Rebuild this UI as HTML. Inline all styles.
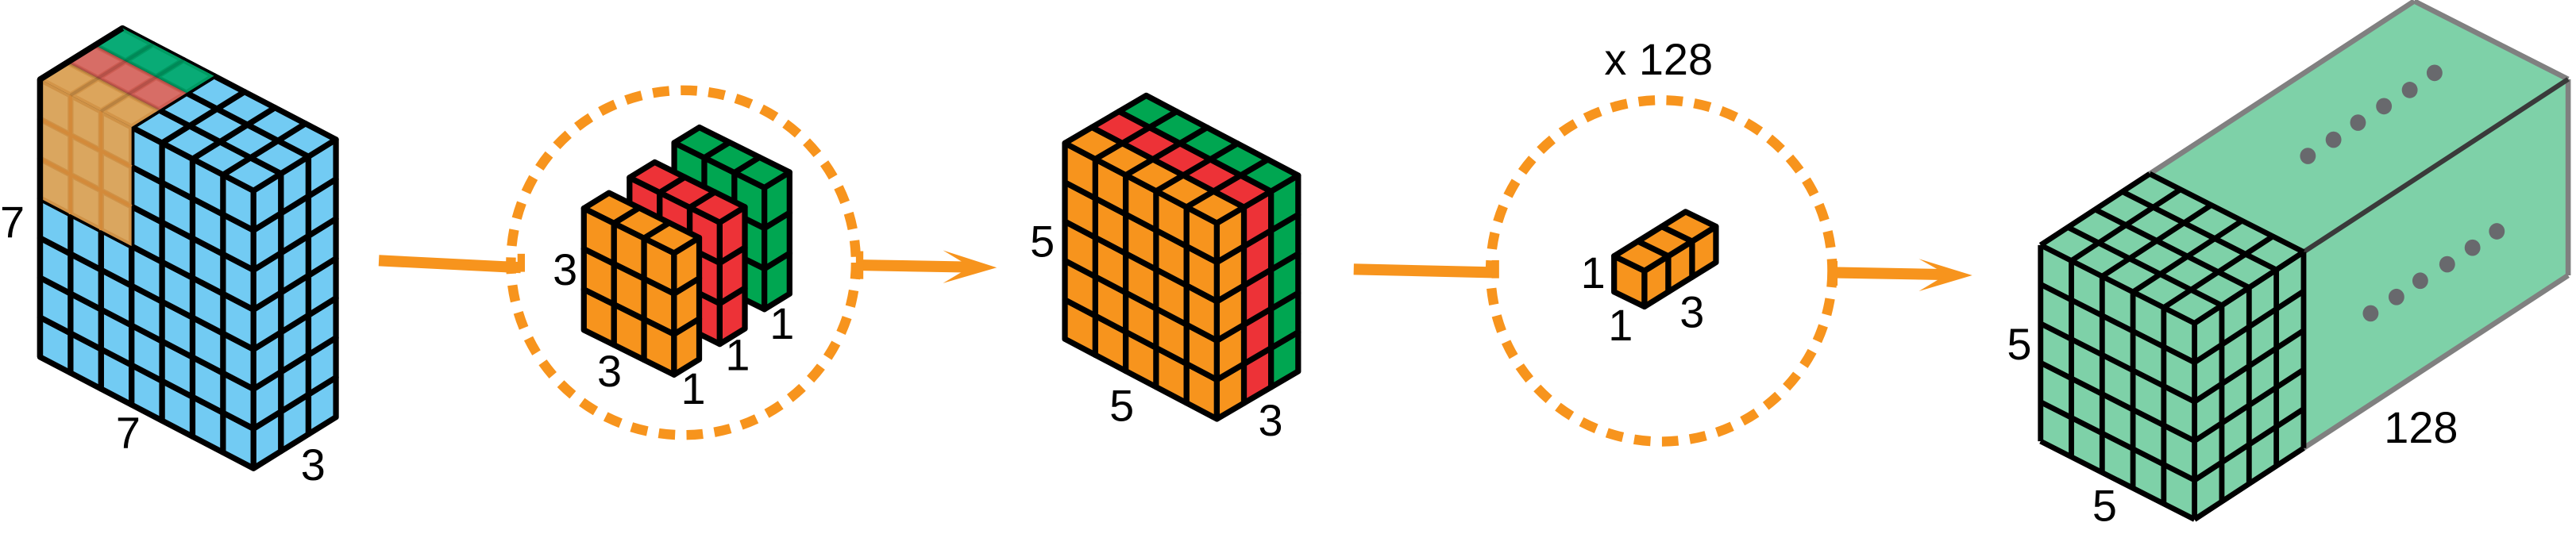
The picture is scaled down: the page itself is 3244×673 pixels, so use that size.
<!DOCTYPE html>
<html><head><meta charset="utf-8">
<style>
html,body{margin:0;padding:0;background:#fff;}
svg{display:block;}
text{font-family:"Liberation Sans",sans-serif;fill:#000;}
</style></head>
<body>
<svg id="s" xmlns="http://www.w3.org/2000/svg" width="3244" height="673" viewBox="0 0 1568 325.3" preserveAspectRatio="none">
<g id="g"></g>
</svg>
<script>
const NS='http://www.w3.org/2000/svg';
const g=document.getElementById('g');
function el(tag,attrs,parent){const e=document.createElementNS(NS,tag);for(const k in attrs)e.setAttribute(k,attrs[k]);(parent||g).appendChild(e);return e;}
function pt(P,a,b,h,i,k,j){return [P[0]+i*a[0]+k*b[0],P[1]+i*a[1]+k*b[1]-j*h];}
function poly(pts,fill,stroke,sw,par,op){return el('polygon',{points:pts.map(p=>p[0].toFixed(2)+','+p[1].toFixed(2)).join(' '),fill:fill,stroke:stroke||'none','stroke-width':sw||0,'stroke-linejoin':'round','fill-opacity':op==null?1:op},par);}
function line(p,q,stroke,sw,par){return el('line',{x1:p[0],y1:p[1],x2:q[0],y2:q[1],stroke:stroke,'stroke-width':sw,'stroke-linecap':'butt'},par);}
function box(name,P,a,b,h,na,nb,nh,fl,fr,ft,sw){
  const grp=el('g',{});
  
  
  for(let i=0;i<na;i++)for(let j=0;j<nh;j++)poly([pt(P,a,b,h,i,0,j),pt(P,a,b,h,i+1,0,j),pt(P,a,b,h,i+1,0,j+1),pt(P,a,b,h,i,0,j+1)],fl(i,j),'#000',sw,grp);
  for(let k=0;k<nb;k++)for(let j=0;j<nh;j++)poly([pt(P,a,b,h,0,k,j),pt(P,a,b,h,0,k+1,j),pt(P,a,b,h,0,k+1,j+1),pt(P,a,b,h,0,k,j+1)],fr(k,j),'#000',sw,grp);
  for(let i=0;i<na;i++)for(let k=0;k<nb;k++)poly([pt(P,a,b,h,i,k,nh),pt(P,a,b,h,i+1,k,nh),pt(P,a,b,h,i+1,k+1,nh),pt(P,a,b,h,i,k+1,nh)],ft(i,k),'#000',sw,grp);
  return grp;
}
const OR='#f7941d',RD='#ed3237',GR='#00a651',BL='#72cbf3';
const cols=[OR,RD,GR];
const SW=3.5;

{const P=[154.3,285.3],a=[-18.56,-9.69],b=[16.73,-10.4],h=24.16;
 const grp=box('input-volume-7x7x3',P,a,b,h,7,3,7,()=>BL,()=>BL,()=>BL,SW);
 const ov=el('g',{},grp);
 
 
 poly([pt(P,a,b,h,4,0,4),pt(P,a,b,h,7,0,4),pt(P,a,b,h,7,0,7),pt(P,a,b,h,4,0,7)],'#e5a24f','#d38a3a',0,ov,0.9);
 const oc=['#e5a24f','#e0655a','#00a86b'];
 for(let k=0;k<3;k++)poly([pt(P,a,b,h,4,k,7),pt(P,a,b,h,7,k,7),pt(P,a,b,h,7,k+1,7),pt(P,a,b,h,4,k+1,7)],oc[k],'none',0,ov,0.92);
 for(let i=5;i<7;i++)line(pt(P,a,b,h,i,0,4),pt(P,a,b,h,i,0,7),'#d38a3a',2,ov);
 for(let j=5;j<7;j++)line(pt(P,a,b,h,4,0,j),pt(P,a,b,h,7,0,j),'#d38a3a',2,ov);
 for(let i=5;i<7;i++)line(pt(P,a,b,h,i,0,7),pt(P,a,b,h,i,3,7),'rgba(0,0,0,0.12)',2,ov);
 for(let k=1;k<3;k++)line(pt(P,a,b,h,4,k,7),pt(P,a,b,h,7,k,7),'rgba(0,0,0,0.12)',2,ov);
 line(pt(P,a,b,h,7,0,0),pt(P,a,b,h,7,0,7),'#000',3.6,grp);
 line(pt(P,a,b,h,7,0,7),pt(P,a,b,h,7,3,7),'#000',3.6,grp);
}

function circ(name,cx,cy,r){const c=el('circle',{cx:cx,cy:cy,r:r,fill:'none',stroke:OR,'stroke-width':6,'stroke-dasharray':'10 7'});
 
 }
circ('depthwise-circle',416,160,105);
circ('pointwise-circle',1011.3,165,104);

{const a=[-18.3,-9.1],b=[15.3,-9.4],h=24.7;
 box('kernel-green',[465.3,188.4],a,b,h,3,1,3,()=>GR,()=>GR,()=>GR,SW);
 box('kernel-red',[438.1,209.6],a,b,h,3,1,3,()=>RD,()=>RD,()=>RD,SW);
 box('kernel-orange',[410.3,228.3],a,b,h,3,1,3,()=>OR,()=>OR,()=>OR,SW);
}

box('intermediate-volume-5x5x3',[740.7,255.2],[-18.5,-9.74],[16.5,-9.67],23.86,5,3,5,()=>OR,(k)=>cols[k],(i,k)=>cols[k],SW);

box('pointwise-kernel-1x1x3',[1001,186.8],[-18.5,-9],[14.5,-9],21.8,1,3,1,()=>OR,()=>OR,()=>OR,SW);

{const P=[1335.8,316.4],a=[-18.74,-9.52],b=[16.6,-10.85],h=23.9,L=13.7;
 const grp=el('g',{});
 
 
 const F='#7ed1a8';
 const LT=pt(P,a,b,h,5,0,5),FT=pt(P,a,b,h,0,0,5),FB=P;
 const LTb=[LT[0]+L*b[0],LT[1]+L*b[1]],FTb=[FT[0]+L*b[0],FT[1]+L*b[1]],FBb=[FB[0]+L*b[0],FB[1]+L*b[1]];
 poly([LT,FT,FTb,LTb],F,'none',0,grp);
 poly([FT,FB,FBb,FTb],F,'none',0,grp);
 poly([pt(P,a,b,h,0,0,0),pt(P,a,b,h,5,0,0),LT,FT],F,'none',0,grp);
 const gs='#808080';
 line(LT,LTb,gs,3.2,grp);line(LTb,FTb,gs,3.2,grp);line(FTb,FBb,gs,3.2,grp);line(FBb,FB,gs,3.2,grp);
 line(FT,FTb,'#3a3a3a',3,grp);
 const bw=3.3;
 for(let i=0;i<=5;i++)line(pt(P,a,b,h,i,0,0),pt(P,a,b,h,i,0,5),'#000',bw,grp);
 for(let j=0;j<=5;j++)line(pt(P,a,b,h,0,0,j),pt(P,a,b,h,5,0,j),'#000',bw,grp);
 for(let k=1;k<=4;k++)line(pt(P,a,b,h,0,k,0),pt(P,a,b,h,0,k,5),'#000',bw,grp);
 for(let j=0;j<=5;j++)line(pt(P,a,b,h,0,0,j),pt(P,a,b,h,0,4,j),'#000',bw,grp);
 for(let k=1;k<=4;k++)line(pt(P,a,b,h,0,k,5),pt(P,a,b,h,5,k,5),'#000',bw,grp);
 for(let i=0;i<=5;i++)line(pt(P,a,b,h,i,0,5),pt(P,a,b,h,i,4,5),'#000',bw,grp);
 const dots=[[1404.8,95],[1420.4,85.1],[1435.3,74.7],[1451.1,64.7],[1466.8,54.8],[1481.9,44.4],
  [1443,190.9],[1458.7,180.9],[1473.2,171],[1489.6,161],[1505,150.9],[1519.8,140.9]];
 dots.forEach(d=>{const c=el('ellipse',{cx:d[0],cy:d[1],rx:4.8,ry:5,fill:'#68696d'},grp);
  
  });
}

function arrow(name,x1,y1,x2,y2,head,tick){
 const grp=el('g',{});
 
 
 line([x1,y1],[x2,y2],OR,6.8,grp);
 if(head)poly(head,OR,'none',0,grp);
 if(tick)el('rect',{x:tick[0]-2,y:tick[1],width:4.5,height:tick[2],fill:OR},grp);
}
arrow('arrow-input-to-depthwise',230.6,158.7,317,163,null,[317,154.6,11]);
arrow('arrow-depthwise-to-intermediate',524,161.5,591,162.7,[[606.7,163],[574,152.5],[590.7,162.5],[574,172.5]],[523,153,17]);
arrow('arrow-intermediate-to-pointwise',824,164,910,166,null,[910,158.5,11]);
arrow('arrow-pointwise-to-output',1115,166,1186,167.3,[[1200.5,167.7],[1168,157.7],[1185,167.2],[1168,177.4]],[1116,159,15]);

function label(name,x,y,t,fs){const e=el('text',{x:x,y:y,'text-anchor':'middle','dominant-baseline':'central','font-size':fs||27});e.textContent=t;
 
 }
label('input-height-label',7.5,135,'7');
label('input-width-label',78,263.5,'7');
label('input-depth-label',190.6,283,'3');
label('kernel-height-label',344,164,'3');
label('kernel-width-label',371,226,'3');
label('kernel-depth-label-1',422,236.5,'1');
label('kernel-depth-label-2',449,216,'1');
label('kernel-depth-label-3',476,197,'1');
label('intermediate-height-label',634.5,147,'5');
label('intermediate-width-label',682.8,247,'5');
label('intermediate-depth-label',773.4,256,'3');
label('pointwise-count-label',1009.6,36,'x 128');
label('pointwise-height-label',969.7,166,'1');
label('pointwise-width-label',986.4,198,'1');
label('pointwise-depth-label',1029.9,190,'3');
label('output-height-label',1229.1,209.6,'5');
label('output-width-label',1281.1,308,'5');
label('output-depth-label',1473.7,260.4,'128');
</script>
</body></html>
